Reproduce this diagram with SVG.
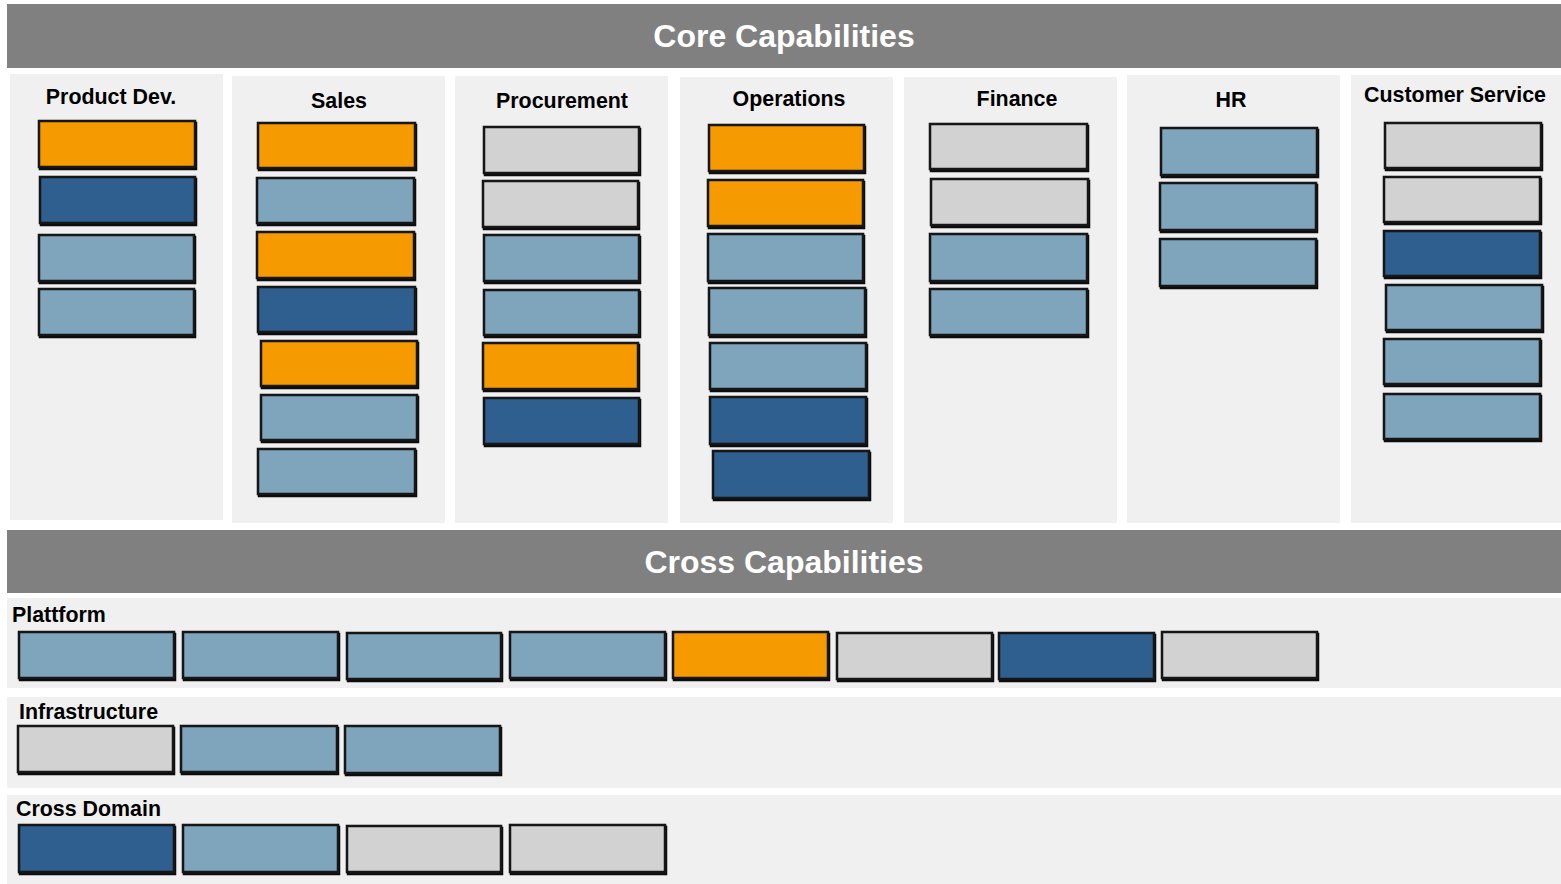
<svg xmlns="http://www.w3.org/2000/svg" width="1561" height="884" viewBox="0 0 1561 884">
<style>
.hdr{fill:#808080}
.ht{font-family:"Liberation Sans",Arial,sans-serif;font-weight:bold;font-size:32px;fill:#fff;text-anchor:middle}
.pan{fill:#f0f0f0}
.t{font-family:"Liberation Sans",Arial,sans-serif;font-weight:bold;font-size:21.4px;fill:#000}
.c{text-anchor:middle}
.b{stroke:#161616;stroke-width:2.5;filter:url(#sh)}
.o{fill:#f59a00}
.l{fill:#7fa5bd}
.d{fill:#2f5f8f}
.g{fill:#d2d2d2}
</style>
<defs>
<filter id="sh" x="-5%" y="-10%" width="115%" height="130%">
<feDropShadow dx="1" dy="2" stdDeviation="0.4" flood-color="#111" flood-opacity="1"/>
</filter>
</defs>
<rect width="1561" height="884" fill="#fff"/>

<g id="core-header">
<rect class="hdr" x="7" y="4" width="1554" height="64"/>
<text class="ht" x="784" y="47">Core Capabilities</text>
</g>

<g id="col-productdev">
<rect class="pan" x="10" y="74" width="213" height="446"/>
<text class="t c" x="111" y="104">Product Dev.</text>
<rect class="b o" x="39" y="121" width="156" height="46"/>
<rect class="b d" x="40" y="177" width="155" height="46"/>
<rect class="b l" x="39" y="235" width="155" height="46"/>
<rect class="b l" x="39" y="289" width="155" height="46"/>
</g>

<g id="col-sales">
<rect class="pan" x="232" y="76" width="213" height="447"/>
<text class="t c" x="339" y="108">Sales</text>
<rect class="b o" x="258" y="123" width="157" height="45"/>
<rect class="b l" x="257" y="178" width="157" height="45"/>
<rect class="b o" x="257" y="232" width="157" height="46"/>
<rect class="b d" x="258" y="287" width="157" height="45"/>
<rect class="b o" x="261" y="341" width="156" height="45"/>
<rect class="b l" x="261" y="395" width="156" height="45"/>
<rect class="b l" x="258" y="449" width="157" height="45"/>
</g>

<g id="col-procurement">
<rect class="pan" x="455" y="76" width="213" height="447"/>
<text class="t c" x="562" y="108">Procurement</text>
<rect class="b g" x="484" y="127" width="155" height="46"/>
<rect class="b g" x="483" y="181" width="155" height="46"/>
<rect class="b l" x="484" y="235" width="155" height="46"/>
<rect class="b l" x="484" y="290" width="155" height="45"/>
<rect class="b o" x="483" y="343" width="155" height="46"/>
<rect class="b d" x="484" y="398" width="155" height="46"/>
</g>

<g id="col-operations">
<rect class="pan" x="680" y="77" width="213" height="446"/>
<text class="t c" x="789" y="106">Operations</text>
<rect class="b o" x="709" y="125" width="155" height="46"/>
<rect class="b o" x="708" y="180" width="155" height="46"/>
<rect class="b l" x="708" y="234" width="155" height="47"/>
<rect class="b l" x="709" y="288" width="156" height="47"/>
<rect class="b l" x="710" y="343" width="156" height="46"/>
<rect class="b d" x="710" y="397" width="156" height="47"/>
<rect class="b d" x="713" y="451" width="156" height="47"/>
</g>

<g id="col-finance">
<rect class="pan" x="904" y="77" width="213" height="446"/>
<text class="t c" x="1017" y="106">Finance</text>
<rect class="b g" x="930" y="124" width="157" height="45"/>
<rect class="b g" x="931" y="179" width="157" height="46"/>
<rect class="b l" x="930" y="234" width="157" height="47"/>
<rect class="b l" x="930" y="289" width="157" height="46"/>
</g>

<g id="col-hr">
<rect class="pan" x="1127" y="75" width="213" height="448"/>
<text class="t c" x="1231" y="107">HR</text>
<rect class="b l" x="1161" y="128" width="156" height="47"/>
<rect class="b l" x="1160" y="183" width="156" height="47"/>
<rect class="b l" x="1160" y="239" width="156" height="47"/>
</g>

<g id="col-customerservice">
<rect class="pan" x="1351" y="75" width="210" height="448"/>
<text class="t c" x="1455" y="102">Customer Service</text>
<rect class="b g" x="1385" y="123" width="156" height="45"/>
<rect class="b g" x="1384" y="177" width="156" height="45"/>
<rect class="b d" x="1384" y="231" width="156" height="45"/>
<rect class="b l" x="1386" y="285" width="156" height="45"/>
<rect class="b l" x="1384" y="339" width="156" height="45"/>
<rect class="b l" x="1384" y="394" width="156" height="45"/>
</g>

<g id="cross-header">
<rect class="hdr" x="7" y="530" width="1554" height="63"/>
<text class="ht" x="784" y="573">Cross Capabilities</text>
</g>

<g id="row-plattform">
<rect class="pan" x="7" y="598" width="1554" height="90"/>
<text class="t" x="12" y="622">Plattform</text>
<rect class="b l" x="19" y="632" width="155" height="46"/>
<rect class="b l" x="183" y="632" width="155" height="46"/>
<rect class="b l" x="347" y="633" width="154" height="46"/>
<rect class="b l" x="510" y="632" width="155" height="46"/>
<rect class="b o" x="673" y="632" width="155" height="46"/>
<rect class="b g" x="837" y="633" width="155" height="46"/>
<rect class="b d" x="999" y="633" width="155" height="46"/>
<rect class="b g" x="1162" y="632" width="155" height="46"/>
</g>

<g id="row-infrastructure">
<rect class="pan" x="7" y="697" width="1554" height="91"/>
<text class="t" x="19" y="719">Infrastructure</text>
<rect class="b g" x="18" y="726" width="155" height="46"/>
<rect class="b l" x="181" y="726" width="156" height="46"/>
<rect class="b l" x="345" y="726" width="155" height="47"/>
</g>

<g id="row-crossdomain">
<rect class="pan" x="7" y="795" width="1554" height="89"/>
<text class="t" x="16" y="816">Cross Domain</text>
<rect class="b d" x="19" y="825" width="155" height="47"/>
<rect class="b l" x="183" y="825" width="155" height="47"/>
<rect class="b g" x="347" y="826" width="154" height="46"/>
<rect class="b g" x="510" y="825" width="155" height="47"/>
</g>

<g id="connectors"/>
</svg>
